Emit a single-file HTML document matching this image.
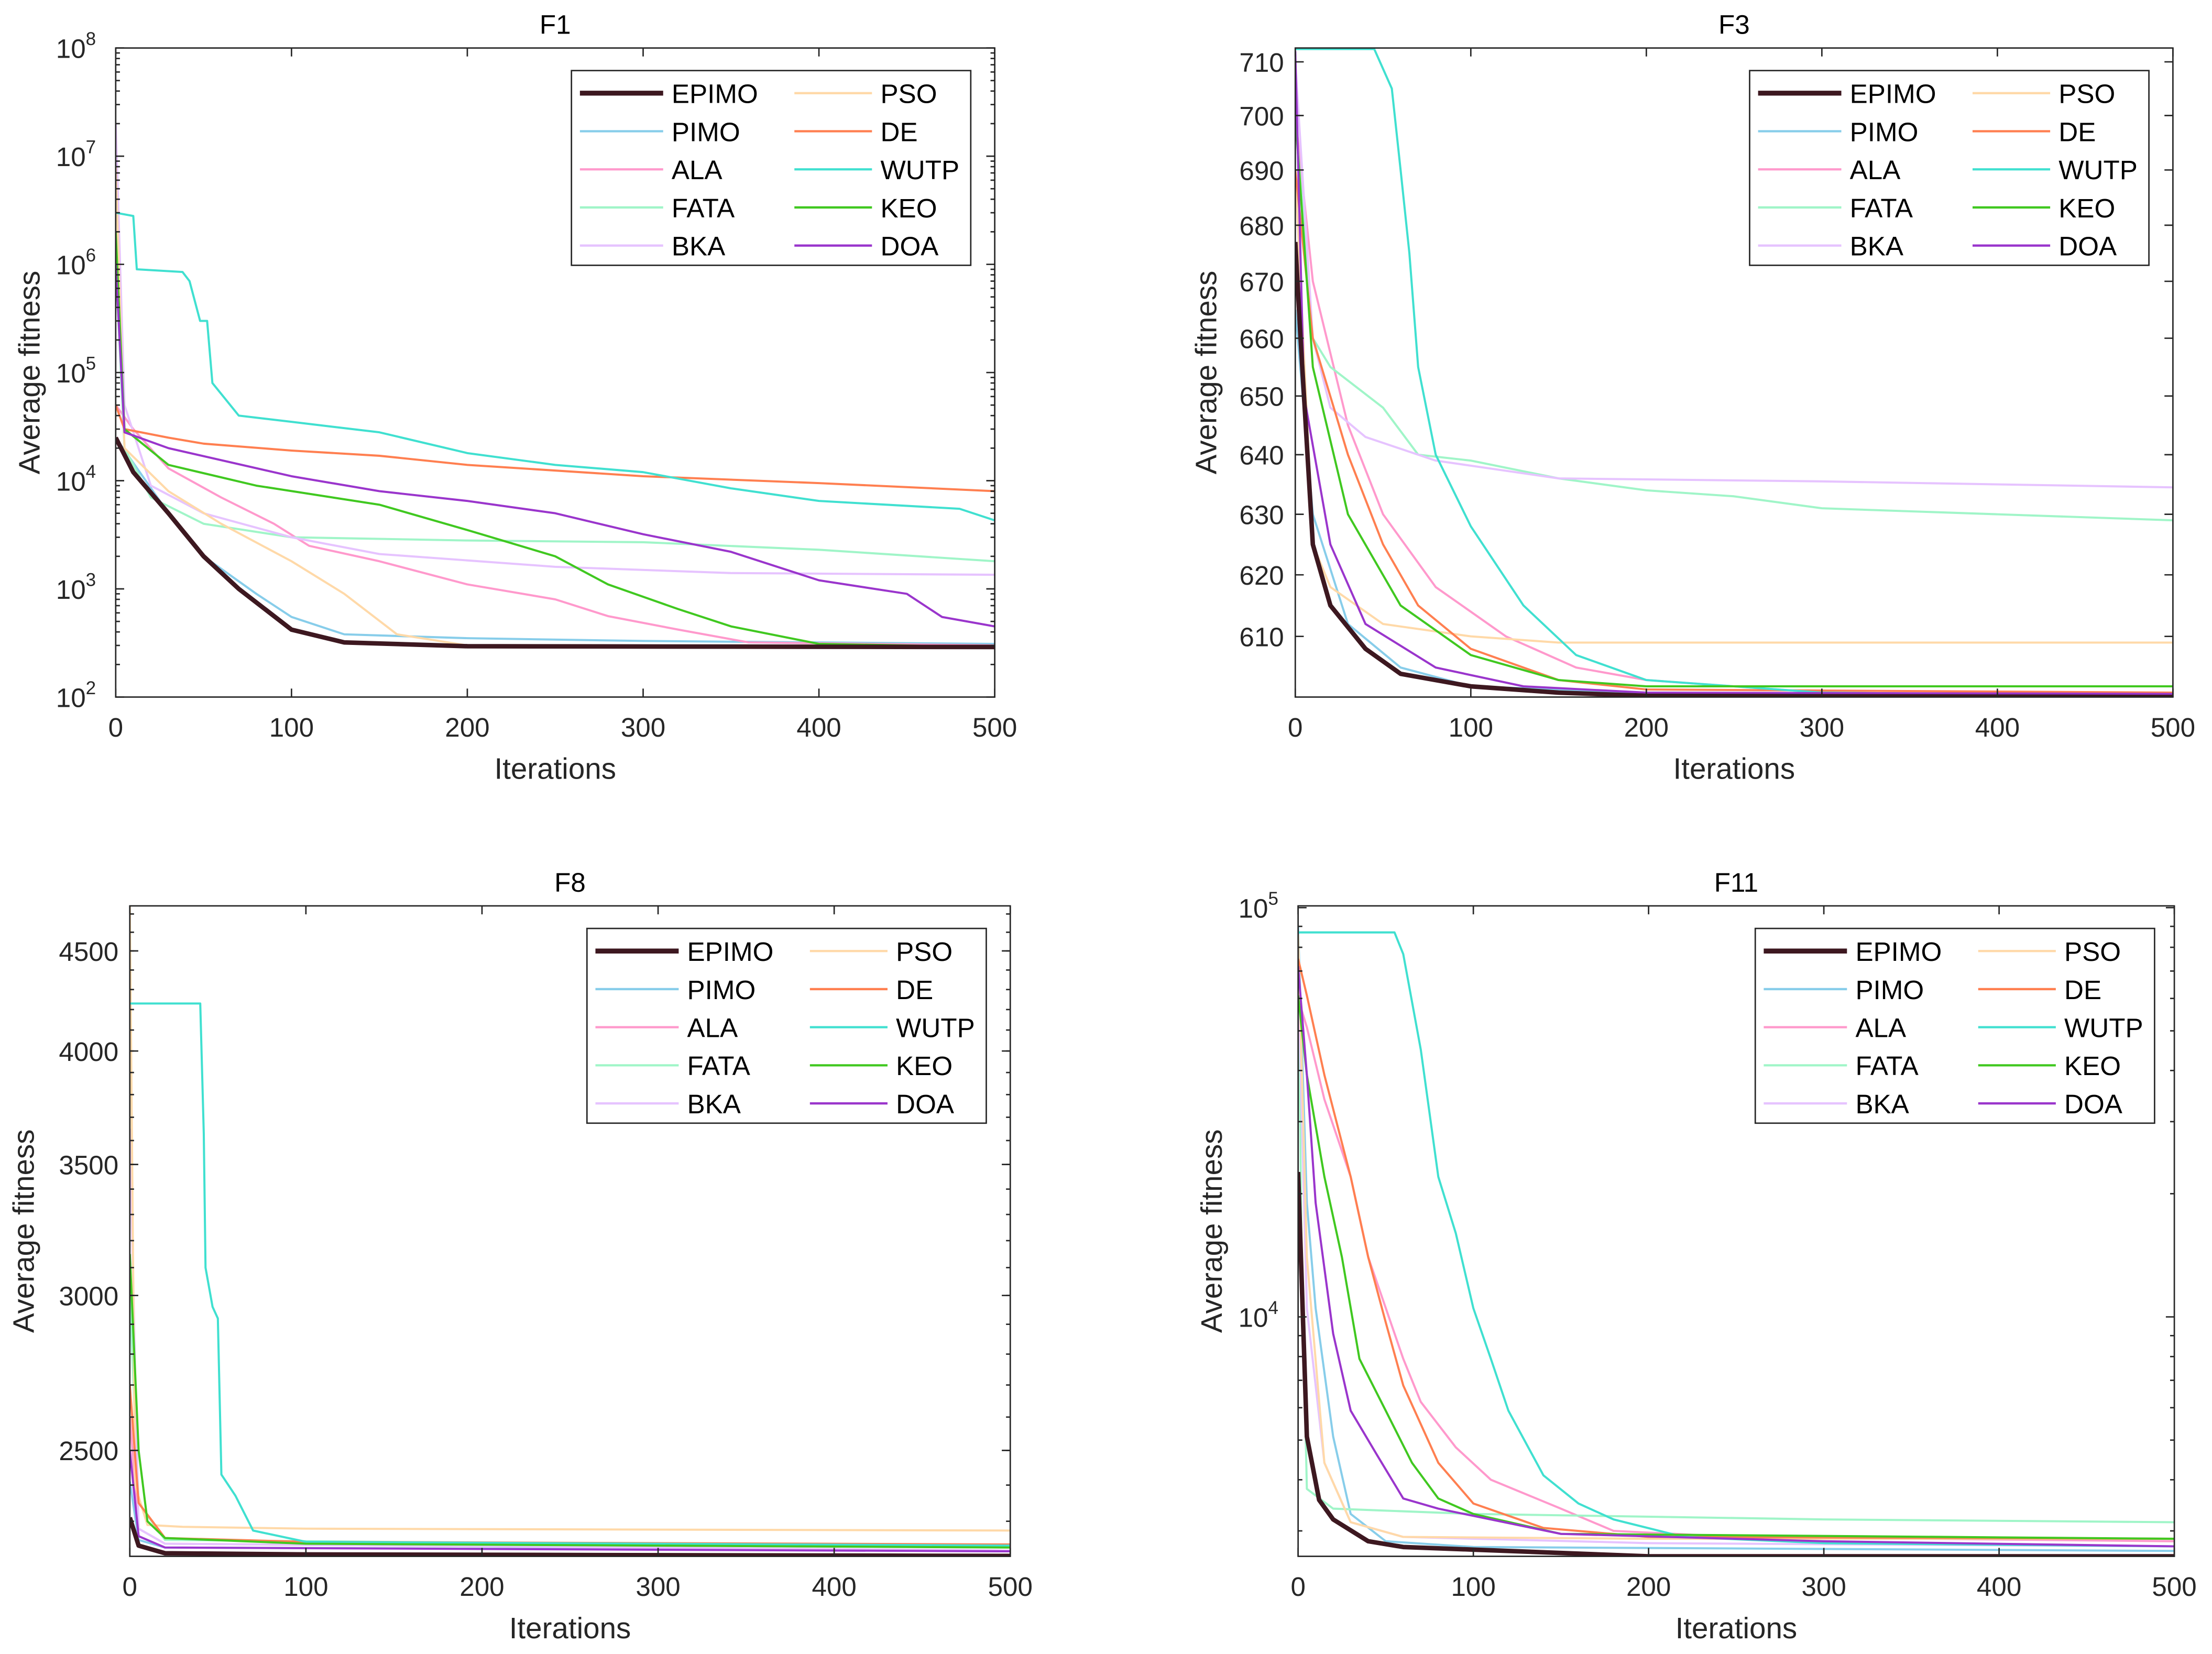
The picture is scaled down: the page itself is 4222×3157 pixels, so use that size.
<!DOCTYPE html>
<html><head><meta charset="utf-8"><style>
html,body{margin:0;padding:0;background:#fff}
svg{display:block}
text{font-family:"Liberation Sans",sans-serif;fill:#262626}
</style></head><body>
<svg id="fig" width="4222" height="3157" viewBox="0 0 1567.7 1172.2" xmlns="http://www.w3.org/2000/svg"></svg>
<script>
const seriesNames=["EPIMO","PIMO","ALA","FATA","BKA","PSO","DE","WUTP","KEO","DOA"];
const seriesColors=["#3d1820","#87cdea","#ff99cc","#a0f5c8","#e6c3ff","#ffd9a8","#ff7f50","#40e0d0","#40c820","#9a35cc"];
const xTicks=[0,100,200,300,400,500];

// F1 data: [iteration, value]
const f1EPIMO=[[0,2.5e4],[10,1.2e4],[30,5e3],[50,2e3],[70,1e3],[100,420],[130,320],[200,295],[500,290]];
const f1PIMO=[[0,2.5e4],[30,5e3],[50,2e3],[80,900],[100,550],[130,380],[200,350],[300,330],[500,310]];
const f1ALA=[[0,5e4],[10,3e4],[30,1.3e4],[60,7e3],[90,4e3],[110,2.5e3],[150,1.8e3],[200,1.1e3],[250,800],[280,560],[320,420],[360,320],[500,300]];
const f1FATA=[[0,1e6],[5,2e4],[20,7e3],[50,4e3],[100,3e3],[200,2.8e3],[300,2.7e3],[400,2.3e3],[500,1.8e3]];
const f1BKA=[[0,2e7],[5,5e4],[20,9e3],[50,5e3],[100,3e3],[150,2.1e3],[250,1.6e3],[350,1.4e3],[500,1.35e3]];
const f1PSO=[[0,8e6],[5,2e4],[30,8e3],[60,4e3],[100,1.8e3],[130,900],[160,380],[200,300],[500,290]];
const f1DE=[[0,5e4],[5,3e4],[30,2.5e4],[50,2.2e4],[100,1.9e4],[150,1.7e4],[200,1.4e4],[300,1.1e4],[400,9.5e3],[500,8e3]];
const f1WUTP=[[0,3e6],[10,2.8e6],[12,9e5],[38,8.5e5],[42,7e5],[48,3e5],[52,3e5],[55,8e4],[70,4e4],[100,3.5e4],[150,2.8e4],[200,1.8e4],[250,1.4e4],[300,1.2e4],[350,8.5e3],[400,6.5e3],[480,5.5e3],[500,4.3e3]];
const f1KEO=[[0,2e6],[5,3e4],[30,1.4e4],[80,9e3],[150,6e3],[200,3.5e3],[250,2e3],[280,1.1e3],[320,650],[350,450],[400,310],[500,290]];
const f1DOA=[[0,1e6],[5,2.8e4],[30,2e4],[100,1.1e4],[150,8e3],[200,6.5e3],[250,5e3],[300,3.2e3],[350,2.2e3],[400,1.2e3],[450,900],[470,550],[500,450]];
const f1YTicks=[2,3,4,5,6,7,8];

// F3 data
const f3EPIMO=[[0,677],[3,660],[10,625],[20,615],[40,608],[60,604],[100,602],[150,601],[200,600.5],[500,600.2]];
const f3PIMO=[[0,665],[10,630],[30,612],[60,605],[100,602],[200,601],[500,600.5]];
const f3ALA=[[0,700],[10,670],[30,645],[50,630],[80,618],[120,610],[160,605],[200,603],[300,601],[500,600.5]];
const f3FATA=[[0,700],[10,660],[20,655],[50,648],[70,640],[100,639],[150,636],[200,634],[250,633],[300,631],[400,630],[500,629]];
const f3BKA=[[0,710],[10,660],[20,648],[40,643],[80,639],[150,636],[300,635.5],[500,634.5]];
const f3PSO=[[0,690],[10,625],[20,618],[50,612],[100,610],[150,609],[500,609]];
const f3DE=[[0,690],[10,660],[30,640],[50,625],[70,615],[100,608],[150,603],[200,601.5],[500,601]];
const f3WUTP=[[0,712.4],[45,712.4],[55,705],[60,690],[65,675],[70,655],[80,640],[100,628],[130,615],[160,607],[200,603],[300,601],[500,600.5]];
const f3KEO=[[0,700],[10,655],[30,630],[60,615],[100,607],[150,603],[200,602],[500,602]];
const f3DOA=[[0,712],[5,650],[20,625],[40,612],[80,605],[130,602],[200,601],[500,600.8]];
const f3YTicks=[610,620,630,640,650,660,670,680,690,700,710];

// F8 data
const f8EPIMO=[[0,2310],[5,2235],[20,2215],[100,2212],[500,2208]];
const f8PIMO=[[0,2410],[5,2250],[20,2230],[500,2222]];
const f8ALA=[[0,2600],[5,2280],[20,2240],[500,2222]];
const f8FATA=[[0,3000],[5,2350],[20,2250],[500,2230]];
const f8BKA=[[0,3650],[5,2280],[20,2240],[500,2222]];
const f8PSO=[[0,4745],[3,2400],[10,2290],[30,2285],[100,2280],[500,2275]];
const f8DE=[[0,2700],[5,2350],[20,2255],[100,2245],[500,2238]];
const f8WUTP=[[0,4230],[40,4230],[42,3630],[43,3100],[47,2960],[50,2920],[52,2430],[60,2370],[70,2275],[100,2245],[500,2235]];
const f8KEO=[[0,3150],[5,2500],[10,2300],[20,2255],[100,2240],[500,2230]];
const f8DOA=[[0,2500],[5,2260],[20,2230],[500,2220]];
const f8YTicks=[2500,3000,3500,4000,4500];

// F11 data
const f11EPIMO=[[0,2.26e4],[5,5.1e3],[12,3.57e3],[20,3.2e3],[40,2.83e3],[60,2.74e3],[100,2.7e3],[200,2.6e3],[300,2.57e3],[500,2.57e3]];
const f11PIMO=[[0,9e4],[5,1.9e4],[10,1.05e4],[20,5.1e3],[30,3.3e3],[50,2.83e3],[100,2.74e3],[500,2.68e3]];
const f11ALA=[[0,6e4],[5,5.1e4],[15,3.4e4],[30,2.2e4],[40,1.4e4],[60,7.9e3],[70,6.2e3],[90,4.8e3],[110,4e3],[150,3.4e3],[180,3e3],[250,2.9e3],[500,2.83e3]];
const f11FATA=[[0,8.15e4],[2,1.4e4],[5,3.8e3],[20,3.4e3],[100,3.3e3],[300,3.2e3],[500,3.15e3]];
const f11BKA=[[0,7e4],[5,1.05e4],[15,4.4e3],[30,3.15e3],[60,2.9e3],[200,2.8e3],[500,2.75e3]];
const f11PSO=[[0,8.6e4],[5,1.4e4],[15,4.4e3],[30,3.15e3],[60,2.9e3],[200,2.87e3],[500,2.87e3]];
const f11DE=[[0,7.5e4],[5,6.1e4],[15,3.9e4],[30,2.2e4],[40,1.4e4],[50,9.7e3],[60,6.8e3],[80,4.4e3],[100,3.5e3],[140,3.05e3],[200,2.9e3],[500,2.87e3]];
const f11WUTP=[[0,8.7e4],[55,8.7e4],[60,7.7e4],[70,4.5e4],[80,2.2e4],[90,1.6e4],[100,1.05e4],[110,7.9e3],[120,5.9e3],[140,4.1e3],[160,3.5e3],[180,3.2e3],[220,2.9e3],[300,2.8e3],[500,2.75e3]];
const f11KEO=[[0,6.1e4],[5,3.9e4],[15,2.2e4],[25,1.4e4],[35,7.9e3],[50,5.9e3],[65,4.4e3],[80,3.6e3],[100,3.3e3],[150,2.95e3],[500,2.87e3]];
const f11DOA=[[0,7.2e4],[5,3.9e4],[10,1.9e4],[20,9.1e3],[30,5.9e3],[45,4.6e3],[60,3.6e3],[80,3.4e3],[150,2.95e3],[300,2.83e3],[500,2.75e3]];
const f11YTicks=[4,5];

const NS="http://www.w3.org/2000/svg";
const svg=document.getElementById('fig');
function mk(tag,attrs,parent){const e=document.createElementNS(NS,tag);for(const k in attrs)e.setAttribute(k,attrs[k]);(parent||svg).appendChild(e);return e;}

function panel(cfg){
  const g=mk('g',{});
  
  
  const L=cfg.L,R=cfg.R,T=cfg.T,B=cfg.B;
  const xs=v=>L+(v/500)*(R-L);
  const a=Math.log10(cfg.ymin),b=Math.log10(cfg.ymax);
  const ys=v=>B-(Math.log10(v)-a)/(b-a)*(B-T);
  mk('rect',{x:L,y:T,width:R-L,height:B-T,fill:'#fff'},g);
  const clipId='clip-'+cfg.id;
  const cp=mk('clipPath',{id:clipId},g);mk('rect',{x:L,y:T,width:R-L,height:B-T},cp);
  const lg=mk('g',{'clip-path':'url(#'+clipId+')'},g);
  const order=[1,2,3,4,5,6,7,8,9,0];
  order.forEach(i=>{
    const d=cfg.data[i];
    const pts=d.map(p=>xs(p[0]).toFixed(2)+','+ys(Math.min(Math.max(p[1],cfg.ymin),cfg.ymax)).toFixed(2)).join(' ');
    const pl=mk('polyline',{points:pts,fill:'none',stroke:seriesColors[i],'stroke-width':i===0?3.2:1.5,'stroke-linejoin':'round'},lg);
    
    
  });
  const box=mk('rect',{x:L,y:T,width:R-L,height:B-T,fill:'none',stroke:'#262626','stroke-width':1},g);
  
  
  xTicks.forEach(t=>{
    const x=xs(t);
    mk('line',{x1:x,y1:B,x2:x,y2:B-6,stroke:'#262626','stroke-width':1},g);
    mk('line',{x1:x,y1:T,x2:x,y2:T+6,stroke:'#262626','stroke-width':1},g);
    const tx=mk('text',{x:x,y:B+28,'font-size':19,'text-anchor':'middle'},g);tx.textContent=t;
    
    
  });
  if(cfg.pow){
    const ea=Math.ceil(a-1e-9),eb=Math.floor(b+1e-9);
    for(let e=ea-1;e<=eb;e++){for(let m=2;m<10;m++){const v=m*Math.pow(10,e);if(v<cfg.ymin||v>cfg.ymax)continue;const y=ys(v);
      mk('line',{x1:L,y1:y,x2:L+3,y2:y,stroke:'#262626','stroke-width':1},g);mk('line',{x1:R,y1:y,x2:R-3,y2:y,stroke:'#262626','stroke-width':1},g);}}
    cfg.yticks.forEach(e=>{const y=ys(Math.pow(10,e));
      mk('line',{x1:L,y1:y,x2:L+6,y2:y,stroke:'#262626','stroke-width':1},g);mk('line',{x1:R,y1:y,x2:R-6,y2:y,stroke:'#262626','stroke-width':1},g);
      const tx=mk('text',{x:L-14,y:y+7,'font-size':19,'text-anchor':'end'},g);
      tx.textContent='10';const sp=mk('tspan',{dy:-9,'font-size':13},tx);sp.textContent=e;
      
      
    });
  } else {
    const step=cfg.minor;
    for(let v=Math.ceil(cfg.ymin/step)*step;v<=cfg.ymax;v+=step){const y=ys(v);
      mk('line',{x1:L,y1:y,x2:L+3,y2:y,stroke:'#262626','stroke-width':1},g);mk('line',{x1:R,y1:y,x2:R-3,y2:y,stroke:'#262626','stroke-width':1},g);}
    cfg.yticks.forEach(v=>{const y=ys(v);
      mk('line',{x1:L,y1:y,x2:L+6,y2:y,stroke:'#262626','stroke-width':1},g);mk('line',{x1:R,y1:y,x2:R-6,y2:y,stroke:'#262626','stroke-width':1},g);
      const tx=mk('text',{x:L-8,y:y+7,'font-size':19,'text-anchor':'end'},g);tx.textContent=v;
      
      
    });
  }
  const ti=mk('text',{x:(L+R)/2,y:T-10,'font-size':19,'text-anchor':'middle',style:'fill:#000'},g);ti.textContent=cfg.title;
  
  
  const xl=mk('text',{x:(L+R)/2,y:B+58,'font-size':21,'text-anchor':'middle'},g);xl.textContent='Iterations';
  
  
  const yl=mk('text',{x:0,y:0,'font-size':21,'text-anchor':'middle',transform:'translate('+(cfg.ylx)+','+((T+B)/2)+') rotate(-90)'},g);yl.textContent='Average fitness';
  
  
  const lgd=mk('g',{},g);
  
  
  const lx=cfg.lx,ly=cfg.ly;
  mk('rect',{x:lx,y:ly,width:283,height:138,fill:'#fff',stroke:'#262626','stroke-width':1},lgd);
  seriesNames.forEach((n,i)=>{
    const col=i<5?0:1,row=i%5;
    const y=ly+16+row*27;
    const x0=lx+(col===0?6:158);
    mk('line',{x1:x0,y1:y,x2:x0+(col===0?59:55),y2:y,stroke:seriesColors[i],'stroke-width':i===0?3.5:1.6},lgd);
    const t=mk('text',{x:x0+(col===0?65:61),y:y+7,'font-size':19,style:'fill:#000'},lgd);t.textContent=n;
    
    
  });
}

panel({id:'f1',title:'F1',L:82,R:705,T:34,B:494,pow:true,ymin:1e2,ymax:1e8,yticks:f1YTicks,ylx:28,lx:405,ly:50,
  data:[f1EPIMO,f1PIMO,f1ALA,f1FATA,f1BKA,f1PSO,f1DE,f1WUTP,f1KEO,f1DOA]});
panel({id:'f3',title:'F3',L:918,R:1540,T:34,B:494,pow:false,ymin:600.3,ymax:712.6,yticks:f3YTicks,minor:1e9,ylx:862,lx:1240,ly:50,
  data:[f3EPIMO,f3PIMO,f3ALA,f3FATA,f3BKA,f3PSO,f3DE,f3WUTP,f3KEO,f3DOA]});
panel({id:'f8',title:'F8',L:92,R:716,T:642,B:1103,pow:false,ymin:2207,ymax:4745,yticks:f8YTicks,minor:100,ylx:24,lx:416,ly:658,
  data:[f8EPIMO,f8PIMO,f8ALA,f8FATA,f8BKA,f8PSO,f8DE,f8WUTP,f8KEO,f8DOA]});
panel({id:'f11',title:'F11',L:920,R:1541,T:642,B:1103,pow:true,ymin:2600,ymax:1.01e5,yticks:f11YTicks,ylx:866,lx:1244,ly:658,
  data:[f11EPIMO,f11PIMO,f11ALA,f11FATA,f11BKA,f11PSO,f11DE,f11WUTP,f11KEO,f11DOA]});
</script>
</body></html>
